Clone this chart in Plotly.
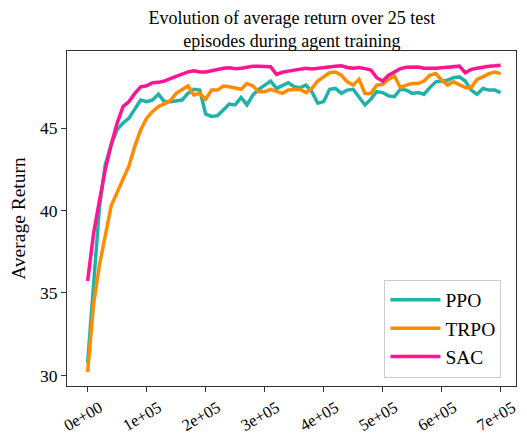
import plotly.graph_objects as go

# evaluation every 1e4 environment steps
steps = list(range(0, 700001, 10000))

ppo = [30.75, 35.5, 40.2, 42.8, 44.0, 44.9, 45.3, 45.6, 46.2, 46.7,
       46.6, 46.7, 47.05, 46.6, 46.6, 46.64, 46.7, 47.1, 47.35, 47.3,
       45.85, 45.7, 45.75, 46.1, 46.45, 46.4, 46.85, 46.4, 47.0, 47.35,
       47.6, 47.85, 47.4, 47.55, 47.75, 47.5, 47.45, 47.6, 47.2, 46.5,
       46.6, 47.35, 47.4, 47.1, 47.3, 47.35, 46.9, 46.4, 46.75, 47.2,
       47.15, 46.95, 46.9, 47.35, 47.3, 47.1, 47.15, 47.05, 47.45, 47.8,
       47.85, 47.9, 48.05, 48.1, 47.85, 47.3, 47.05, 47.4, 47.3, 47.3,
       47.15]

trpo = [30.2, 34.3, 36.7, 38.5, 40.3, 41.1, 41.9, 42.7, 43.9, 44.9,
        45.6, 46.0, 46.3, 46.5, 46.65, 47.1, 47.3, 47.55, 47.0, 47.1,
        46.75, 47.3, 47.3, 47.55, 47.5, 47.4, 47.35, 47.7, 47.55, 47.2,
        47.2, 47.35, 47.25, 47.1, 47.3, 47.3, 47.35, 47.15, 47.4, 47.85,
        48.1, 48.35, 48.4, 48.2, 47.8, 47.6, 47.95, 47.1, 47.1, 47.6,
        47.65, 47.95, 48.15, 47.45, 47.6, 47.7, 47.7, 47.85, 48.2, 48.3,
        47.9, 47.6, 47.8, 47.6, 47.45, 47.45, 47.95, 48.1, 48.3, 48.4,
        48.3]

sac = [35.73, 38.6, 40.6, 42.5, 44.0, 45.3, 46.3, 46.6, 47.1, 47.5,
       47.56, 47.75, 47.77, 47.85, 48.0, 48.15, 48.27, 48.4, 48.47, 48.4,
       48.4, 48.47, 48.58, 48.62, 48.65, 48.6, 48.62, 48.7, 48.74, 48.74,
       48.74, 48.72, 48.25, 48.38, 48.45, 48.5, 48.58, 48.62, 48.58, 48.63,
       48.67, 48.68, 48.75, 48.77, 48.67, 48.63, 48.67, 48.6, 48.52, 48.05,
       47.85, 48.2, 48.4, 48.6, 48.68, 48.68, 48.7, 48.63, 48.6, 48.62,
       48.65, 48.7, 48.72, 48.75, 48.35, 48.55, 48.63, 48.7, 48.75, 48.77,
       48.8]

series = [("PPO", ppo, "#20B2AA"), ("TRPO", trpo, "#FF8C00"), ("SAC", sac, "#FF1493")]
x_ticks = [0, 100000, 200000, 300000, 400000, 500000, 600000, 700000]
x_labels = ["0e+00", "1e+05", "2e+05", "3e+05", "4e+05", "5e+05", "6e+05", "7e+05"]
y_ticks = [30, 35, 40, 45]

serif = "Liberation Serif"

fig = go.Figure()
for name, vals, col in series:
    fig.add_trace(go.Scatter(x=steps, y=vals, name=name, mode="lines",
                             line=dict(color=col, width=3.5)))

# the page body has an 8px margin, so the figure is 8px smaller than the window
fig.update_layout(
    width=519, height=426,
    margin=dict(l=59, r=11, t=43, b=48),
    paper_bgcolor="white", plot_bgcolor="white",
    font=dict(family=serif, size=17, color="black"),
    title=dict(text="Evolution of average return over 25 test<br>episodes during agent training",
               x=0.547, xanchor="center", y=0.963, yanchor="middle",
               font=dict(family=serif, size=18)),
    legend=dict(x=0.707, y=0.025, xanchor="left", yanchor="bottom",
                bordercolor="#cccccc", borderwidth=1, bgcolor="white",
                itemwidth=50, font=dict(family=serif, size=19.5)),
)
fig.update_xaxes(range=[-35000, 726000], tickvals=x_ticks, ticktext=x_labels,
                 tickangle=-30, tickfont=dict(family=serif, size=16.5, color="black"),
                 ticklabelshift=12,
                 ticks="outside", ticklen=5, tickcolor="#333",
                 showline=True, linecolor="#333", linewidth=1, mirror=True,
                 showgrid=False, zeroline=False, automargin=False)
fig.update_yaxes(range=[29.36, 49.67], tickvals=y_ticks,
                 tickfont=dict(family=serif, size=17.5, color="black"),
                 ticks="outside", ticklen=5, tickcolor="#333",
                 showline=True, linecolor="#333", linewidth=1, mirror=True,
                 showgrid=False, zeroline=False, automargin=False,
                 title=dict(text="Average Return", font=dict(family=serif, size=19.5), standoff=10))

fig.write_html("out.html")
